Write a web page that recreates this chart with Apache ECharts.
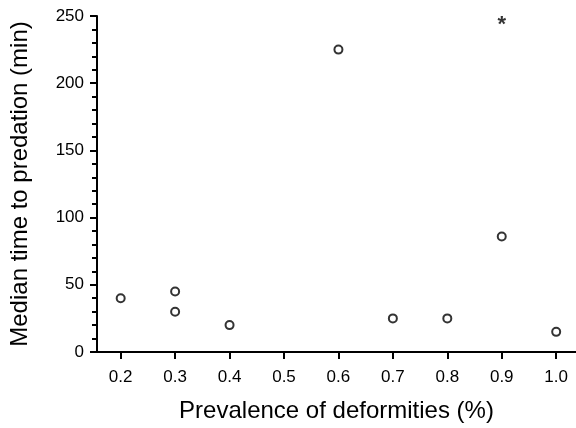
<!DOCTYPE html>
<html><head><meta charset="utf-8">
<script src="https://cdn.jsdelivr.net/npm/echarts@6/dist/echarts.min.js"></script>
<style>html,body{margin:0;padding:0;background:#fff}#c{width:576px;height:428px}</style>
</head><body><div id="c"></div>
<script>
const prevalence = [0.2, 0.3, 0.3, 0.4, 0.6, 0.7, 0.8, 0.9, 1.0];
const medianTime = [40, 45, 30, 20, 225, 25, 25, 86, 15];
const starX = [0.9];
const starY = [246];
const xTicks = [0.2, 0.3, 0.4, 0.5, 0.6, 0.7, 0.8, 0.9, 1.0];

const chart = echarts.init(document.getElementById('c'));
const font = 'Arial, "Liberation Sans", sans-serif';
chart.setOption({
  animation: false,
  grid: {left: 94, top: 16, right: 0, bottom: 73, containLabel: false},
  xAxis: {
    type: 'value', min: 0.1565, max: 1.0364,
    axisLine: {lineStyle: {color: '#000', width: 2}},
    axisTick: {show: true, customValues: xTicks, length: 7, lineStyle: {color: '#000', width: 2}},
    axisLabel: {customValues: xTicks, formatter: v => v.toFixed(1), color: '#000', fontSize: 17, fontFamily: font, margin: 17},
    splitLine: {show: false},
    name: 'Prevalence of deformities (%)', nameLocation: 'middle', nameGap: 47,
    nameTextStyle: {color: '#000', fontSize: 24, fontFamily: font}
  },
  yAxis: {
    type: 'value', min: 0, max: 250, interval: 50,
    axisLine: {show: true, lineStyle: {color: '#000', width: 2}},
    axisTick: {show: true, length: 7, lineStyle: {color: '#000', width: 2}},
    minorTick: {show: true, splitNumber: 5, length: 5, lineStyle: {color: '#000', width: 2}},
    axisLabel: {color: '#000', fontSize: 17, fontFamily: font, margin: 13},
    splitLine: {show: false},
    name: 'Median time to predation (min)', nameLocation: 'middle', nameGap: 65,
    nameTextStyle: {color: '#000', fontSize: 24, fontFamily: font}
  },
  series: [
    {
      type: 'scatter',
      data: prevalence.map((x, i) => [x, medianTime[i]]),
      symbol: 'circle', symbolSize: 8,
      itemStyle: {color: '#fff', borderColor: '#000', borderWidth: 2}
    },
    {
      type: 'scatter',
      data: starX.map((x, i) => [x, starY[i]]),
      symbolSize: 0,
      label: {show: true, position: 'inside', formatter: '*', color: '#000', fontSize: 22, fontWeight: 'bold', fontFamily: font, offset: [0, 4]}
    }
  ]
});
</script></body></html>
